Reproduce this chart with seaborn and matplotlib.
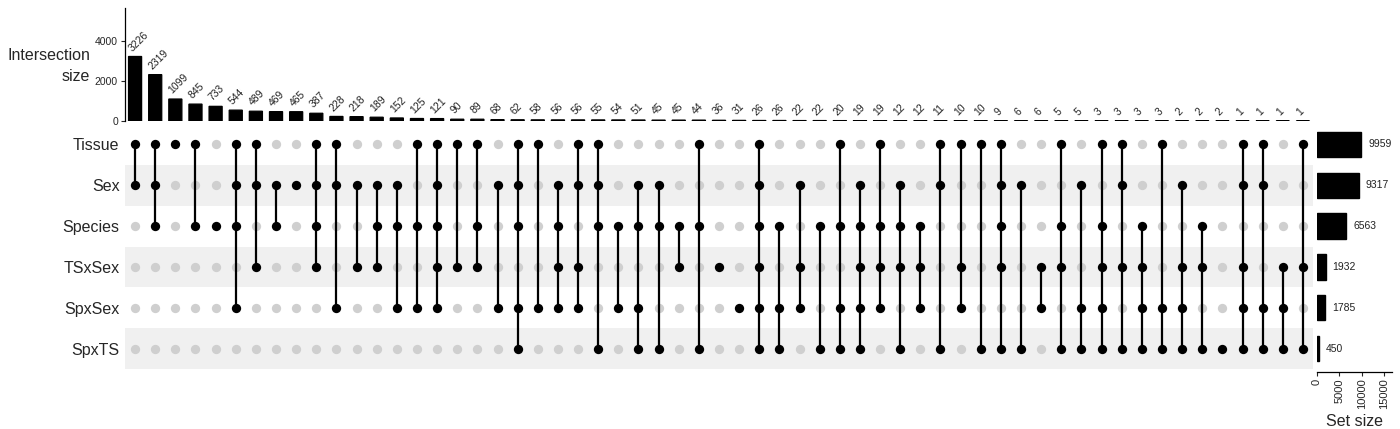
import matplotlib
matplotlib.use("Agg")

import matplotlib.pyplot as plt
import numpy as np
import pandas as pd
import seaborn as sns

sns.set_theme(style="white")
plt.rcParams["font.family"] = ["Liberation Sans", "DejaVu Sans"]

# ---------------------------------------------------------
# data

sets = ["Tissue", "Sex", "Species", "TSxSex", "SpxSex", "SpxTS"]

set_sizes = [9959, 9317, 6563, 1932, 1785, 450]

intersection_sizes = [
    3226, 2319, 1099, 845, 733, 544, 489, 469, 465, 387,
    228, 218, 189, 152, 125, 121, 90, 89, 68, 62,
    58, 56, 56, 55, 54, 51, 45, 45, 44, 36,
    31, 26, 26, 22, 22, 20, 19, 19, 12, 12,
    11, 10, 10, 9, 6, 6, 5, 5, 3, 3,
    3, 3, 2, 2, 2, 1, 1, 1, 1,
]

memberships = [
    ["Tissue", "Sex"],
    ["Tissue", "Sex", "Species"],
    ["Tissue"],
    ["Tissue", "Species"],
    ["Species"],
    ["Tissue", "Sex", "Species", "SpxSex"],
    ["Tissue", "Sex", "TSxSex"],
    ["Sex", "Species"],
    ["Sex"],
    ["Tissue", "Sex", "Species", "TSxSex"],
    ["Tissue", "Sex", "SpxSex"],
    ["Sex", "TSxSex"],
    ["Sex", "Species", "TSxSex"],
    ["Sex", "Species", "SpxSex"],
    ["Tissue", "Species", "SpxSex"],
    ["Tissue", "Sex", "Species", "TSxSex", "SpxSex"],
    ["Tissue", "TSxSex"],
    ["Tissue", "Species", "TSxSex"],
    ["Sex", "SpxSex"],
    ["Tissue", "Sex", "Species", "SpxSex", "SpxTS"],
    ["Tissue", "SpxSex"],
    ["Sex", "Species", "TSxSex", "SpxSex"],
    ["Tissue", "Sex", "TSxSex", "SpxSex"],
    ["Tissue", "Sex", "Species", "SpxTS"],
    ["Species", "SpxSex"],
    ["Sex", "Species", "SpxSex", "SpxTS"],
    ["Sex", "Species", "SpxTS"],
    ["Species", "TSxSex"],
    ["Tissue", "Species", "SpxTS"],
    ["TSxSex"],
    ["SpxSex"],
    ["Tissue", "Sex", "Species", "TSxSex", "SpxSex", "SpxTS"],
    ["Species", "SpxSex", "SpxTS"],
    ["Sex", "TSxSex", "SpxSex"],
    ["Species", "SpxTS"],
    ["Tissue", "Species", "SpxSex", "SpxTS"],
    ["Sex", "Species", "TSxSex", "SpxSex", "SpxTS"],
    ["Tissue", "Species", "TSxSex", "SpxSex"],
    ["Sex", "Species", "TSxSex", "SpxTS"],
    ["Species", "TSxSex", "SpxSex"],
    ["Tissue", "Sex", "SpxTS"],
    ["Tissue", "TSxSex", "SpxSex"],
    ["Tissue", "SpxTS"],
    ["Tissue", "Sex", "Species", "TSxSex", "SpxTS"],
    ["Sex", "SpxTS"],
    ["TSxSex", "SpxSex"],
    ["Tissue", "Species", "TSxSex", "SpxTS"],
    ["Sex", "SpxSex", "SpxTS"],
    ["Tissue", "Species", "TSxSex", "SpxSex", "SpxTS"],
    ["Tissue", "Sex", "TSxSex", "SpxTS"],
    ["Species", "TSxSex", "SpxSex", "SpxTS"],
    ["Tissue", "SpxSex", "SpxTS"],
    ["Sex", "TSxSex", "SpxSex", "SpxTS"],
    ["Species", "TSxSex", "SpxTS"],
    ["SpxTS"],
    ["Tissue", "Sex", "TSxSex", "SpxSex", "SpxTS"],
    ["Tissue", "Sex", "SpxSex", "SpxTS"],
    ["TSxSex", "SpxSex", "SpxTS"],
    ["Tissue", "TSxSex", "SpxTS"],
]

# ---------------------------------------------------------

W, H = 1400, 429
n_cols = len(intersection_sizes)

fig = plt.figure(figsize=(W / 100, H / 100), dpi=100)


def box(left, top, right, bottom):
    return [left / W, 1 - bottom / H, (right - left) / W, (bottom - top) / H]


ax_top = fig.add_axes(box(125, 8, 1313, 121))
ax_mat = fig.add_axes(box(125, 124, 1313, 369))
ax_set = fig.add_axes(box(1317, 124, 1392, 369))

# ---------------------------------------------------------
# intersection size bars

inter_df = pd.DataFrame({
    "col": np.arange(n_cols),
    "size": intersection_sizes,
})

sns.barplot(
    data=inter_df,
    x="col",
    y="size",
    color="black",
    width=0.65,
    edgecolor="black",
    linewidth=0.9,
    saturation=1,
    ax=ax_top
)

# keep the tiny bars visible as thin dashes
for p in ax_top.patches:
    p.set_snap(False)

for i, v in enumerate(intersection_sizes):
    ax_top.annotate(
        str(v),
        (i, v),
        xytext=(-1, 2.5),
        textcoords="offset points",
        rotation=45,
        rotation_mode="anchor",
        ha="left",
        va="bottom",
        fontsize=7.5,
        color="#222222"
    )

ax_top.set_xlim(-0.5, n_cols - 0.5)
ax_top.set_ylim(0, 5650)
ax_top.set_yticks([0, 2000, 4000])
ax_top.tick_params(axis="y", labelsize=7.5, length=3, width=0.8, left=True, pad=2)
ax_top.set_xticks([])
ax_top.set_xlabel("")
ax_top.set_ylabel("")
for s in ["top", "right", "bottom"]:
    ax_top.spines[s].set_visible(False)
ax_top.spines["left"].set_color("black")
ax_top.spines["left"].set_linewidth(0.9)

fig.text(
    90 / W, 1 - 66 / H,
    "Intersection\nsize",
    ha="right",
    va="center",
    multialignment="right",
    fontsize=11.5,
    linespacing=1.5
)

# ---------------------------------------------------------
# matrix of dots

for r in range(len(sets)):
    if r % 2 == 1:
        ax_mat.axhspan(r - 0.5, r + 0.5, color="#f0f0f0", lw=0, zorder=0)

rows = []
for c, members in enumerate(memberships):
    for r, name in enumerate(sets):
        rows.append({"col": c, "row": r, "in": name in members})
dots = pd.DataFrame(rows)

sns.scatterplot(
    data=dots[~dots["in"]],
    x="col",
    y="row",
    color="#cfcfcf",
    s=45,
    linewidth=0,
    ax=ax_mat,
    zorder=2
)

for c, members in enumerate(memberships):
    idx = [sets.index(m) for m in members]
    if len(idx) > 1:
        ax_mat.vlines(c, min(idx), max(idx), color="black", lw=1.6, zorder=3)

sns.scatterplot(
    data=dots[dots["in"]],
    x="col",
    y="row",
    color="black",
    s=45,
    linewidth=0,
    ax=ax_mat,
    zorder=4
)

ax_mat.set_xlim(-0.5, n_cols - 0.5)
ax_mat.set_ylim(len(sets) - 0.5, -0.5)
ax_mat.set_xticks([])
ax_mat.set_yticks(range(len(sets)))
ax_mat.set_yticklabels(sets, fontsize=11.5)
ax_mat.tick_params(axis="y", length=0, pad=4)
ax_mat.set_xlabel("")
ax_mat.set_ylabel("")
for s in ax_mat.spines.values():
    s.set_visible(False)

# ---------------------------------------------------------
# set size bars

set_df = pd.DataFrame({"set": sets, "size": set_sizes})

sns.barplot(
    data=set_df,
    y="set",
    x="size",
    order=sets,
    orient="h",
    color="black",
    width=0.62,
    edgecolor="black",
    linewidth=1.0,
    saturation=1,
    ax=ax_set
)

for r, v in enumerate(set_sizes):
    ax_set.annotate(
        str(v),
        (v, r),
        xytext=(5, 0),
        textcoords="offset points",
        ha="left",
        va="center",
        fontsize=7.5,
        color="#222222"
    )

ax_set.set_ylim(len(sets) - 0.5, -0.5)
ax_set.set_xlim(0, 16800)
ax_set.set_xticks([0, 5000, 10000, 15000])
ax_set.tick_params(axis="x", labelsize=8, rotation=90, length=3, width=0.8, bottom=True, pad=2)
ax_set.set_yticks([])
ax_set.set_ylabel("")
ax_set.set_xlabel("Set size", fontsize=11.5, labelpad=3)
for s in ["top", "right", "left"]:
    ax_set.spines[s].set_visible(False)
ax_set.spines["bottom"].set_color("black")
ax_set.spines["bottom"].set_linewidth(0.9)
ax_set.spines["bottom"].set_position(("outward", 2))

fig.savefig("out.png", dpi=100)
